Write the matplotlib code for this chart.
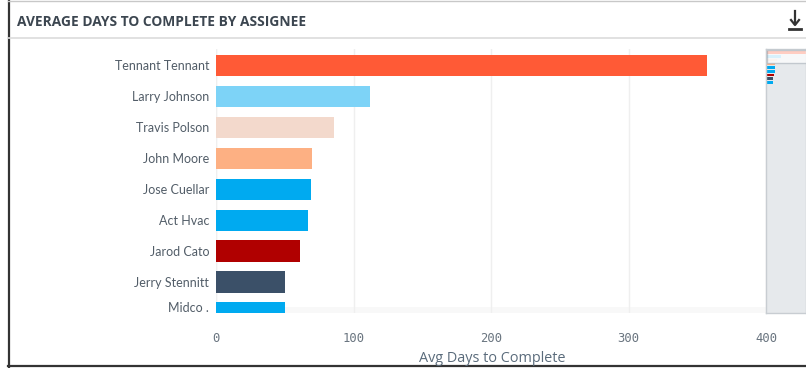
import matplotlib.pyplot as plt
import matplotlib.transforms as mtransforms
from matplotlib.patches import Rectangle

names = ["Tennant Tennant", "Larry Johnson", "Travis Polson", "John Moore",
         "Jose Cuellar", "Act Hvac", "Jarod Cato", "Jerry Stennitt", "Midco ."]
days = [357, 112, 86, 70, 69, 67, 61, 50, 50]
colors = ["#ff5a36", "#7dd3f7", "#f3d9cc", "#fdb083", "#00aaf0",
          "#00aaf0", "#b00000", "#3b5068", "#00aaf0"]
xticks = [0, 100, 200, 300, 400]

W, H = 806, 368
fig = plt.figure(figsize=(W / 100, H / 100), dpi=100)


def px(x0, y0, x1, y1):
    # pixel box (top-left origin) -> figure fraction rect
    return [x0 / W, 1 - y1 / H, (x1 - x0) / W, (y1 - y0) / H]


def fx(x):
    return x / W


def fy(y):
    return 1 - y / H


# card frame
fig.add_artist(plt.Line2D([fx(8.5)] * 2, [0, 1], color="#333333", lw=1.6))
fig.add_artist(plt.Line2D([fx(8), 1], [fy(365.5)] * 2, color="#333333", lw=1.6))
fig.add_artist(plt.Line2D([fx(8), 1], [fy(1)] * 2, color="#c8c8c8", lw=1))
fig.add_artist(plt.Line2D([fx(8), 1], [fy(38)] * 2, color="#dcdcdc", lw=1.2))

fig.text(fx(17), fy(22), "AVERAGE DAYS TO COMPLETE BY ASSIGNEE",
         fontsize=9.9, fontweight="bold", color="#3c4650",
         family="Open Sans", va="center", ha="left")

# download icon
fig.add_artist(plt.Line2D([fx(795)] * 2, [fy(11), fy(24)], color="#333333", lw=1.6))
fig.add_artist(plt.Line2D([fx(791), fx(795), fx(799)], [fy(20), fy(25), fy(20)],
                          color="#333333", lw=1.6))
fig.add_artist(plt.Line2D([fx(789), fx(801)], [fy(29)] * 2, color="#333333", lw=2))

# main chart
ax = fig.add_axes(px(216, 49, 766, 313))
ypos = list(range(len(names)))
ax.barh(ypos, days, height=0.68, color=colors, zorder=3)
ax.set_ylim(8.0, -0.52)
ax.set_xlim(0, 400)
ax.set_yticks(ypos)
ax.set_yticklabels(names, fontsize=9, color="#525d68", family="Lato")
ax.set_xticks(xticks)
ax.set_xticklabels([str(t) for t in xticks], fontsize=8.8, color="#6a7580",
                   family="DejaVu Sans Mono")
ax.tick_params(axis="y", length=0, pad=5)
ax.tick_params(axis="x", length=0, pad=14)
ax.grid(axis="x", color="#efefef", lw=1, zorder=0)
for s in ax.spines.values():
    s.set_visible(False)
ax.axvline(0, color="#f2f2f2", lw=1, zorder=1)
ax.axhspan(7.8, 8.0, color="#f8f8f8", zorder=1, lw=0)

# last label is pinned inside the visible scroll window
last = ax.get_yticklabels()[-1]
last.set_transform(last.get_transform() +
                   mtransforms.ScaledTranslation(0, 6 / 100, fig.dpi_scale_trans))

fig.text(fx(492), fy(359), "Avg Days to Complete", fontsize=10.4,
         color="#5a6b7b", family="Open Sans", ha="center", va="center")

# mini map / scroll panel
mini = fig.add_axes(px(766, 49, 806, 313))
mini.set_facecolor("#e6e9ec")
mini.barh(ypos, days, height=0.7, color=colors)
mini.set_xlim(0, 300)
mini.set_ylim(70, -1)
mini.set_xticks([])
mini.set_yticks([])
for s in mini.spines.values():
    s.set_color("#c8cdd2")
    s.set_linewidth(1)
mini.add_patch(Rectangle((10, -0.8), 300, 3.6, facecolor="white", alpha=0.7,
                         edgecolor="#b0b8c0", lw=1, zorder=5))

fig.savefig("out.png", dpi=100, facecolor="white")
